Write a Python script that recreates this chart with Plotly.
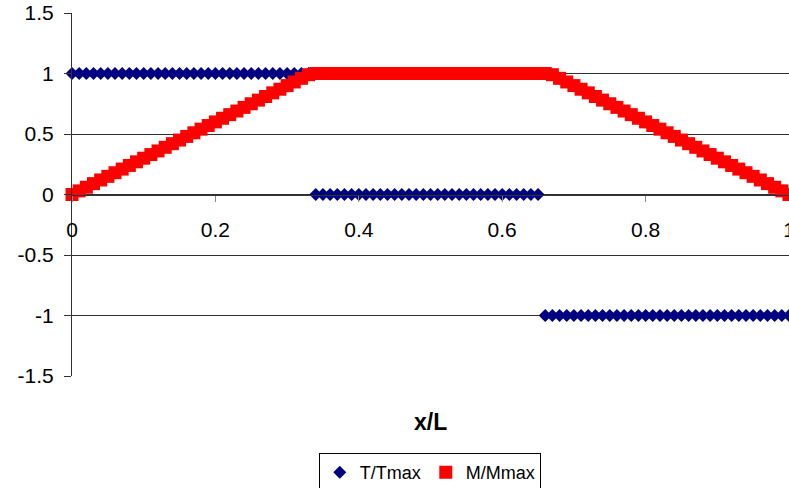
import plotly.graph_objects as go

x_over_L = [0.00, 0.01, 0.02, 0.03, 0.04, 0.05, 0.06, 0.07, 0.08, 0.09,
            0.10, 0.11, 0.12, 0.13, 0.14, 0.15, 0.16, 0.17, 0.18, 0.19,
            0.20, 0.21, 0.22, 0.23, 0.24, 0.25, 0.26, 0.27, 0.28, 0.29,
            0.30, 0.31, 0.32, 0.33, 0.34, 0.35, 0.36, 0.37, 0.38, 0.39,
            0.40, 0.41, 0.42, 0.43, 0.44, 0.45, 0.46, 0.47, 0.48, 0.49,
            0.50, 0.51, 0.52, 0.53, 0.54, 0.55, 0.56, 0.57, 0.58, 0.59,
            0.60, 0.61, 0.62, 0.63, 0.64, 0.65, 0.66, 0.67, 0.68, 0.69,
            0.70, 0.71, 0.72, 0.73, 0.74, 0.75, 0.76, 0.77, 0.78, 0.79,
            0.80, 0.81, 0.82, 0.83, 0.84, 0.85, 0.86, 0.87, 0.88, 0.89,
            0.90, 0.91, 0.92, 0.93, 0.94, 0.95, 0.96, 0.97, 0.98, 0.99,
            1.00]

T_over_Tmax = [1, 1, 1, 1, 1, 1, 1, 1, 1, 1,
               1, 1, 1, 1, 1, 1, 1, 1, 1, 1,
               1, 1, 1, 1, 1, 1, 1, 1, 1, 1,
               1, 1, 1, 1, 0, 0, 0, 0, 0, 0,
               0, 0, 0, 0, 0, 0, 0, 0, 0, 0,
               0, 0, 0, 0, 0, 0, 0, 0, 0, 0,
               0, 0, 0, 0, 0, 0, -1, -1, -1, -1,
               -1, -1, -1, -1, -1, -1, -1, -1, -1, -1,
               -1, -1, -1, -1, -1, -1, -1, -1, -1, -1,
               -1, -1, -1, -1, -1, -1, -1, -1, -1, -1,
               -1]

M_over_Mmax = [0.00, 0.03, 0.06, 0.09, 0.12, 0.15, 0.18, 0.21, 0.24, 0.27,
               0.30, 0.33, 0.36, 0.39, 0.42, 0.45, 0.48, 0.51, 0.54, 0.57,
               0.60, 0.63, 0.66, 0.69, 0.72, 0.75, 0.78, 0.81, 0.84, 0.87,
               0.90, 0.93, 0.96, 0.99, 1.00, 1.00, 1.00, 1.00, 1.00, 1.00,
               1.00, 1.00, 1.00, 1.00, 1.00, 1.00, 1.00, 1.00, 1.00, 1.00,
               1.00, 1.00, 1.00, 1.00, 1.00, 1.00, 1.00, 1.00, 1.00, 1.00,
               1.00, 1.00, 1.00, 1.00, 1.00, 1.00, 1.00, 0.99, 0.96, 0.93,
               0.90, 0.87, 0.84, 0.81, 0.78, 0.75, 0.72, 0.69, 0.66, 0.63,
               0.60, 0.57, 0.54, 0.51, 0.48, 0.45, 0.42, 0.39, 0.36, 0.33,
               0.30, 0.27, 0.24, 0.21, 0.18, 0.15, 0.12, 0.09, 0.06, 0.03,
               0.00]

x_tick_vals = [0, 0.2, 0.4, 0.6, 0.8, 1]
x_tick_text = ["0", "0.2", "0.4", "0.6", "0.8", "1"]
y_tick_vals = [-1.5, -1, -0.5, 0, 0.5, 1, 1.5]
y_tick_text = ["-1.5", "-1", "-0.5", "0", "0.5", "1", "1.5"]

FONT = "Liberation Sans, Arial, sans-serif"

fig = go.Figure()
fig.add_trace(go.Scatter(
    x=x_over_L, y=T_over_Tmax, mode="markers", name="T/Tmax",
    marker=dict(symbol="diamond", size=10, color="#000080",
                line=dict(width=0)),
    cliponaxis=False,
))
fig.add_trace(go.Scatter(
    x=x_over_L, y=M_over_Mmax, mode="markers", name="M/Mmax",
    marker=dict(symbol="square", size=13, color="#FF0000",
                line=dict(width=0)),
    cliponaxis=False,
))

fig.update_layout(
    width=789, height=488,
    margin=dict(l=72, r=0, t=13, b=112, autoexpand=False),
    paper_bgcolor="white", plot_bgcolor="white",
    font=dict(family=FONT, color="black"),
    showlegend=True,
    legend=dict(
        orientation="h", x=0.499, xanchor="center", y=-0.212, yanchor="top",
        bordercolor="black", borderwidth=1,
        font=dict(size=18, family=FONT, color="black"),
        itemwidth=30, tracegroupgap=0,
    ),
    annotations=[dict(
        text="<b>x/L</b>", xref="paper", yref="paper", x=0.5, y=-0.127,
        xanchor="center", yanchor="middle", showarrow=False,
        font=dict(size=23, family=FONT, color="black"),
    )],
)

fig.update_xaxes(
    range=[0, 1], anchor="free", position=0.5,
    showgrid=False, zeroline=False,
    showline=True, linecolor="#333333", linewidth=1,
    ticks="outside", ticklen=6, tickcolor="#888888",
    tickvals=x_tick_vals, ticktext=x_tick_text,
    tickfont=dict(size=21, family=FONT, color="black"),
    ticklabelstandoff=10, ticklabeloverflow="allow", automargin=False,
)
fig.update_yaxes(
    range=[-1.5, 1.5],
    showgrid=True, gridcolor="#303030", gridwidth=1, zeroline=False,
    showline=True, linecolor="#333333", linewidth=1,
    ticks="outside", ticklen=7, tickcolor="#333333",
    tickvals=y_tick_vals, ticktext=y_tick_text,
    tickfont=dict(size=21, family=FONT, color="black"),
    ticklabelstandoff=6, automargin=False,
)

page_reset = (
    "document.documentElement.style.margin='0';"
    "document.documentElement.style.overflow='hidden';"
    "document.body.style.margin='0';"
    "document.body.style.overflow='hidden';"
)

fig.write_html("out.html", post_script=page_reset,
               config={"displayModeBar": False})
